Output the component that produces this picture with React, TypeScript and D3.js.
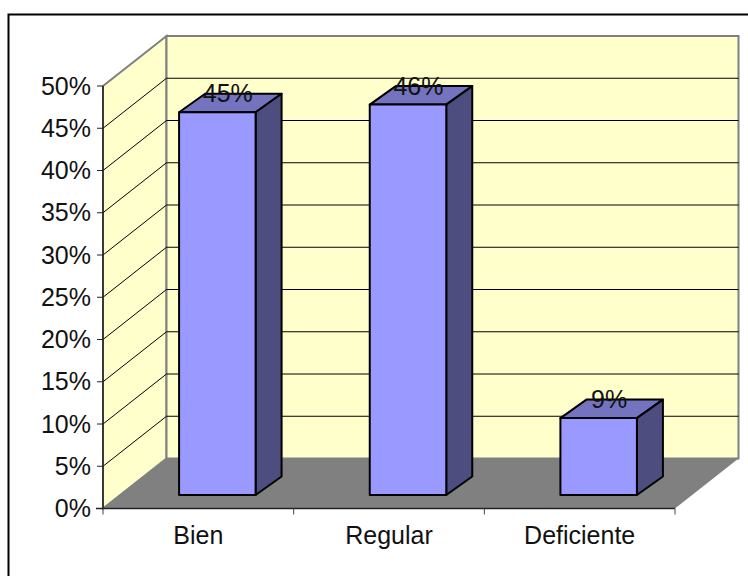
import React from "react";
import * as d3 from "d3";

const categories = ["Bien", "Regular", "Deficiente"];
const values = [45.3, 46.2, 9.1];
const barLabels = ["45%", "46%", "9%"];
const yTicks = [0, 5, 10, 15, 20, 25, 30, 35, 40, 45, 50];

const W = 748, H = 576;
const X0 = 103, X1 = 675, Y0 = 508.5, Y50 = 86;
const DX = 63.5, DY = -50;
const BW = 76.5, BDX = 26, BDY = -18.5, BASE_DX = 19, BASE_Y = 495;
const FONT = "'Liberation Sans', Arial, sans-serif";

const x = d3.scaleBand<string>().domain(categories).range([X0, X1]);
const y = d3.scaleLinear().domain([0, 50]).range([Y0, Y50]);
const poly = (pts: number[][]) => d3.line()(pts as [number, number][]) + "Z";

export default function App() {
  return (
    <svg width={W} height={H} style={{ position: "absolute", left: 0, top: 0 }}>
      <rect x={0} y={0} width={W} height={H} fill="#fff" />
      <path d={`M8.5,${H}V14.5H${W}`} fill="none" stroke="#000" strokeWidth={2} />
      {/* walls */}
      <path d={poly([[X0, Y0], [X0, Y50], [X0 + DX, Y50 + DY], [X0 + DX, Y0 + DY]])} fill="#FFFFCC" stroke="#808080" strokeWidth={2} />
      <path d={poly([[X0 + DX, Y0 + DY], [X0 + DX, Y50 + DY], [X1 + DX, Y50 + DY], [X1 + DX, Y0 + DY]])} fill="#FFFFCC" stroke="#808080" strokeWidth={2} />
      {/* gridlines */}
      {yTicks.slice(1).map((t) => (
        <g key={t}>
          {t < 50 && <path d={d3.line()([[X0, y(t)], [X0 + DX, y(t) + DY], [X1 + DX, y(t) + DY]])!} fill="none" stroke="#000" strokeWidth={1} />}
        </g>
      ))}
      {/* floor */}
      <path d={poly([[X0, Y0], [X0 + DX, Y0 + DY], [X1 + DX, Y0 + DY], [X1, Y0]])} fill="#808080" />
      {/* axes */}
      <line x1={X0} x2={X0} y1={Y50} y2={Y0} stroke="#222" strokeWidth={1.5} />
      <line x1={X0 - 7} x2={X1} y1={Y0} y2={Y0} stroke="#222" strokeWidth={1.5} />
      {yTicks.map((t) => (
        <g key={t}>
          <line x1={X0 - 6} x2={X0} y1={y(t)} y2={y(t)} stroke="#222" strokeWidth={1} />
          <text x={X0 - 12} y={y(t) + 8.5} textAnchor="end" fontFamily={FONT} fontSize={25} fill="#111">{t}%</text>
        </g>
      ))}
      {[...categories.map((c) => x(c)!), X1].map((tx, i) => (
        <line key={i} x1={tx} x2={tx} y1={Y0} y2={Y0 + 6} stroke="#444" strokeWidth={1} />
      ))}
      {categories.map((c) => (
        <text key={c} x={x(c)! + x.bandwidth() / 2} y={544} textAnchor="middle" fontFamily={FONT} fontSize={25} fill="#111">{c}</text>
      ))}
      {/* bars */}
      {categories.map((c, i) => {
        const cx = x(c)! + x.bandwidth() / 2 + BASE_DX;
        const l = cx - BW / 2, r = cx + BW / 2;
        const top = BASE_Y - (Y0 - y(values[i]));
        return (
          <g key={c} stroke="#000" strokeWidth={2} strokeLinejoin="round">
            <path d={poly([[l, top], [l + BDX, top + BDY], [r + BDX, top + BDY], [r, top]])} fill="#7373BF" />
            <path d={poly([[r, top], [r + BDX, top + BDY], [r + BDX, BASE_Y + BDY], [r, BASE_Y]])} fill="#4D4D80" />
            <rect x={l} y={top} width={BW} height={BASE_Y - top} fill="#9999FF" />
            <text x={cx + 10.5} y={top - 10} textAnchor="middle" fontFamily={FONT} fontSize={25} fill="#111" stroke="none">{barLabels[i]}</text>
          </g>
        );
      })}
    </svg>
  );
}
